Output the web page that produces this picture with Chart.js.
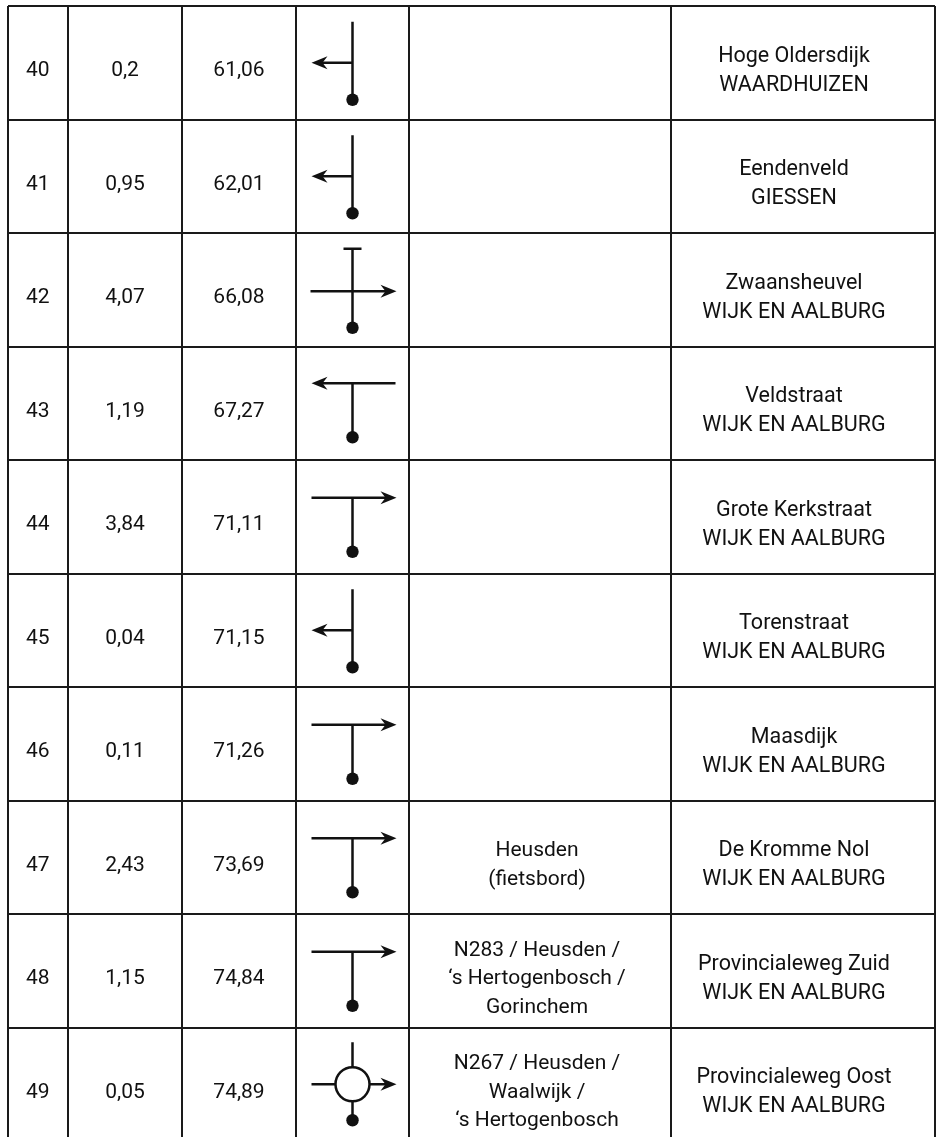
<!DOCTYPE html>
<html>
<head>
<meta charset="utf-8">
<script src="https://cdn.jsdelivr.net/npm/chart.js@4.4.1/dist/chart.umd.min.js"></script>
<style>
  html, body { margin: 0; padding: 0; background: #fff; overflow: hidden; }
  #wrap { width: 939px; height: 1150px; position: relative; }
</style>
</head>
<body>
<div id="wrap"><canvas id="roadbook"></canvas></div>
<script>
// --- Route data (read from the roadbook page) ---
const steps = [40, 41, 42, 43, 44, 45, 46, 47, 48, 49];
const partialKm = [0.2, 0.95, 4.07, 1.19, 3.84, 0.04, 0.11, 2.43, 1.15, 0.05];
const totalKm = [61.06, 62.01, 66.08, 67.27, 71.11, 71.15, 71.26, 73.69, 74.84, 74.89];
const maneuvers = ['left', 'left', 'crossRight', 'tLeft', 'tRight', 'left', 'tRight', 'tRight', 'tRight', 'roundRight'];
const directions = [
    [], [], [], [], [], [], [],
    ['Heusden', '(fietsbord)'],
    ['N283 / Heusden /', '\u2018s Hertogenbosch /', 'Gorinchem'],
    ['N267 / Heusden /', 'Waalwijk /', '\u2018s Hertogenbosch']
];
const streets = ['Hoge Oldersdijk', 'Eendenveld', 'Zwaansheuvel', 'Veldstraat', 'Grote Kerkstraat',
    'Torenstraat', 'Maasdijk', 'De Kromme Nol', 'Provincialeweg Zuid', 'Provincialeweg Oost'];
const places = ['WAARDHUIZEN', 'GIESSEN', 'WIJK EN AALBURG', 'WIJK EN AALBURG', 'WIJK EN AALBURG',
    'WIJK EN AALBURG', 'WIJK EN AALBURG', 'WIJK EN AALBURG', 'WIJK EN AALBURG', 'WIJK EN AALBURG'];

// column widths of the table (layout only)
const colWidths = [60.5, 114, 114, 113, 262, 264];
const colEdges = colWidths.reduce((acc, w) => { acc.push(acc[acc.length - 1] + w); return acc; }, [0]);
const colCenter = c => (colEdges[c] + colEdges[c + 1]) / 2;

const INK = '#111';
const FONT = 'Roboto, "Noto Sans", sans-serif';
const fmt = v => String(v).replace('.', ',');

function arrowHead(ctx, x, y, dir) {
    // stealth arrow, dir = 1 (right) or -1 (left)
    ctx.beginPath();
    ctx.moveTo(x, y);
    ctx.lineTo(x - dir * 16, y - 6.5);
    ctx.lineTo(x - dir * 11, y);
    ctx.lineTo(x - dir * 16, y + 6.5);
    ctx.closePath();
    ctx.fill();
}

function line(ctx, x1, y1, x2, y2) {
    ctx.beginPath();
    ctx.moveTo(x1, y1);
    ctx.lineTo(x2, y2);
    ctx.stroke();
}

function dot(ctx, x, y) {
    ctx.beginPath();
    ctx.arc(x, y, 6.2, 0, Math.PI * 2);
    ctx.fill();
}

function drawManeuver(ctx, type, cx, cy) {
    ctx.save();
    ctx.strokeStyle = INK;
    ctx.fillStyle = INK;
    ctx.lineWidth = 2.5;
    if (type === 'left') {
        line(ctx, cx, cy - 41, cx, cy + 37);
        line(ctx, cx, cy, cx - 31, cy);
        arrowHead(ctx, cx - 41, cy, -1);
        dot(ctx, cx, cy + 37);
    } else if (type === 'crossRight') {
        line(ctx, cx - 9, cy - 41, cx + 9, cy - 41);
        line(ctx, cx, cy - 41, cx, cy + 38);
        line(ctx, cx - 42, cy + 1.5, cx + 34, cy + 1.5);
        arrowHead(ctx, cx + 44, cy + 1.5, 1);
        dot(ctx, cx, cy + 38);
    } else if (type === 'tLeft') {
        line(ctx, cx - 31, cy - 20, cx + 43, cy - 20);
        arrowHead(ctx, cx - 41, cy - 20, -1);
        line(ctx, cx, cy - 20, cx, cy + 34);
        dot(ctx, cx, cy + 34);
    } else if (type === 'tRight') {
        line(ctx, cx - 41, cy - 19, cx + 34, cy - 19);
        arrowHead(ctx, cx + 44, cy - 19, 1);
        line(ctx, cx, cy - 19, cx, cy + 35);
        dot(ctx, cx, cy + 35);
    } else if (type === 'roundRight') {
        const r = 17;
        ctx.beginPath();
        ctx.arc(cx, cy, r, 0, Math.PI * 2);
        ctx.stroke();
        line(ctx, cx, cy - 42, cx, cy - r);
        line(ctx, cx - 41, cy, cx - r, cy);
        line(ctx, cx + r, cy, cx + 34, cy);
        arrowHead(ctx, cx + 44, cy, 1);
        line(ctx, cx, cy + r, cx, cy + 36);
        dot(ctx, cx, cy + 36);
    }
    ctx.restore();
}

function drawLines(ctx, lines, x, cy, size, lead) {
    ctx.font = `${size}px ${FONT}`;
    const cap = size * 0.71;
    lines.forEach((t, k) => {
        const base = cy + 6 + cap / 2 + (k - (lines.length - 1) / 2) * lead;
        ctx.fillText(t, x, base);
    });
}

const roadbookCells = {
    id: 'roadbookCells',
    afterDatasetsDraw(chart) {
        const { ctx, scales: { x, y } } = chart;
        ctx.save();
        ctx.fillStyle = INK;
        ctx.textAlign = 'center';
        ctx.textBaseline = 'alphabetic';
        steps.forEach((s, i) => {
            const cy = y.getPixelForValue(s);
            drawLines(ctx, [String(s)], x.getPixelForValue(colCenter(0)), cy, 21, 28);
            drawLines(ctx, [fmt(partialKm[i])], x.getPixelForValue(colCenter(1)), cy, 21, 28);
            drawLines(ctx, [fmt(totalKm[i])], x.getPixelForValue(colCenter(2)), cy, 21, 28);
            drawManeuver(ctx, maneuvers[i], x.getPixelForValue(colCenter(3)), cy);
            if (directions[i].length) {
                drawLines(ctx, directions[i], x.getPixelForValue(colCenter(4)) - 3, cy, 21, 28.5);
            }
            drawLines(ctx, [streets[i], places[i]], x.getPixelForValue(colCenter(5)) - 9, cy, 21.5, 29);
        });
        ctx.restore();
    }
};

const ctx = document.getElementById('roadbook').getContext('2d');
const roadbook = new Chart(ctx, {
    type: 'scatter',
    data: {
        datasets: [{
            label: 'Stap',
            data: steps.map(s => ({ x: colCenter(0), y: s })),
            pointRadius: 0,
            showLine: false
        }]
    },
    options: {
        responsive: true,
        maintainAspectRatio: false,
        animation: false,
        layout: { padding: { left: 7.5, top: 6, right: 4, bottom: 9 } },
        plugins: { legend: { display: false }, tooltip: { enabled: false } },
        scales: {
            x: {
                type: 'linear',
                min: 0,
                max: colEdges[colEdges.length - 1],
                afterBuildTicks: scale => { scale.ticks = colEdges.map(v => ({ value: v })); },
                ticks: { display: false },
                grid: { color: '#1a1a1a', lineWidth: 2, drawTicks: false },
                border: { display: false }
            },
            y: {
                type: 'linear',
                reverse: true,
                min: steps[0] - 0.5,
                max: steps[steps.length - 1] + 0.5,
                afterBuildTicks: scale => {
                    scale.ticks = steps.map(s => ({ value: s - 0.5 })).concat([{ value: steps[steps.length - 1] + 0.5 }]);
                },
                ticks: { display: false },
                grid: { color: '#1a1a1a', lineWidth: 2, drawTicks: false },
                border: { display: false }
            }
        }
    },
    plugins: [roadbookCells]
});
</script>
</body>
</html>
